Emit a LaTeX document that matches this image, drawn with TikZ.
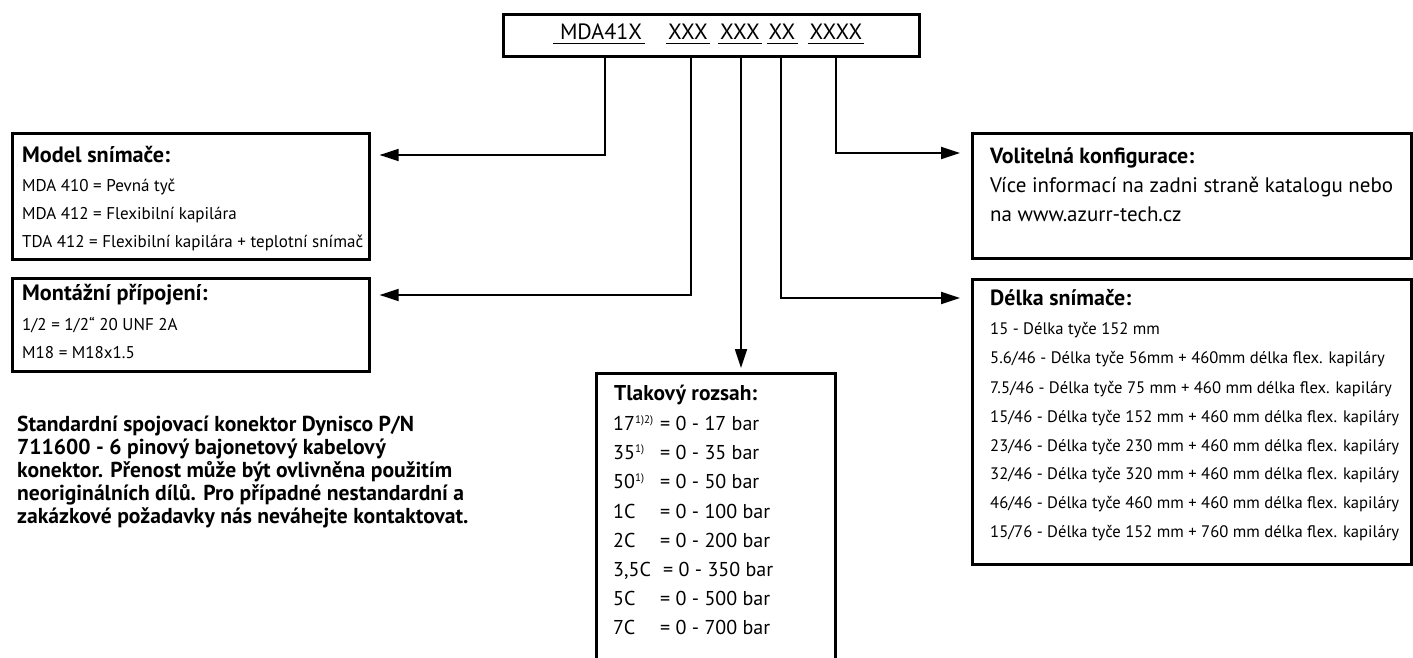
\documentclass[tikz,border=0pt]{standalone}
\usepackage{fontspec}
\setmainfont{PT Sans}
\usetikzlibrary{arrows.meta}
\newlength\mywd
\newcommand{\fitsz}[4]{%
  \settowidth\mywd{\fontsize{20}{20}\selectfont#2#3}%
  \pgfmathsetmacro#1{20*#4/\mywd}}
\newcommand{\fs}[1]{\fontsize{#1}{#1}\selectfont}
\newcommand{\supx}[1]{{\fontsize{11}{11}\selectfont\raisebox{6.5pt}{#1}}}
\begin{document}
\fitsz{\szMh}{\bfseries}{Model snímače:}{148}%
\fitsz{\szMb}{}{TDA 412 = Flexibilní kapilára + teplotní snímač}{341}%
\fitsz{\szVh}{\bfseries}{Volitelná konfigurace:}{204}%
\fitsz{\szDh}{\bfseries}{Délka snímače:}{141}%
\fitsz{\szVb}{}{Více informací na zadni straně katalogu nebo}{403}%
\fitsz{\szDb}{}{15/46 - Délka tyče 152 mm + 460 mm délka flex. kapiláry}{409}%
\fitsz{\szTh}{\bfseries}{Tlakový rozsah:}{143}%
\fitsz{\szTb}{}{= 0 - 350 bar}{110}%
\fitsz{\szP}{\bfseries}{konektor. Přenost může být ovlivněna použitím}{435}%
\fitsz{\szK}{}{MDA41X}{82}%
\begin{tikzpicture}[x=1pt,y=-1pt,
 box/.style={draw, line width=2.6pt, inner sep=0pt, anchor=north west},
 conn/.style={line width=1.8pt, -{Triangle[length=19pt,width=12pt]}},
 tl/.style={anchor=base west, inner sep=0pt},
 hd/.style={tl, font=\fs{\szMh}\bfseries},
 bd/.style={tl, font=\fs{\szMb}},
 hdV/.style={tl, font=\fs{\szVh}\bfseries},
 hdD/.style={tl, font=\fs{\szDh}\bfseries},
 bdV/.style={tl, font=\fs{\szVb}},
 bdS/.style={tl, font=\fs{\szDb}},
 hdT/.style={tl, font=\fs{\szTh}\bfseries},
 bdT/.style={tl, font=\fs{\szTb}},
 para/.style={tl, font=\fs{\szP}\bfseries},
 tok/.style={anchor=base, inner sep=0pt, font=\fs{\szK}},
 uline/.style={line width=1.5pt}]
\clip (0,0) rectangle (1413,658);
\fill[white] (0,0) rectangle (1413,658);

% code box
\node[box, minimum width=416pt, minimum height=42pt] (top) at (502,13) {};
\node[tok] (tok1) at (601,40) {MDA41X};
\node[tok] (tok2) at (688,40) {XXX};
\node[tok] (tok3) at (740,40) {XXX};
\node[tok] (tok4) at (782,40) {XX};
\node[tok] (tok5) at (836,40) {XXXX};
\draw[uline] ([shift={(-7,3.5)}]tok1.base west) -- ([shift={(3,3.5)}]tok1.base east);
\draw[uline] ([shift={(-2,3.5)}]tok2.base west) -- ([shift={(2,3.5)}]tok2.base east);
\draw[uline] ([shift={(-2,3.5)}]tok3.base west) -- ([shift={(2,3.5)}]tok3.base east);
\draw[uline] ([shift={(-2,3.5)}]tok4.base west) -- ([shift={(2,3.5)}]tok4.base east);
\draw[uline] ([shift={(-2,3.5)}]tok5.base west) -- ([shift={(2,3.5)}]tok5.base east);

% boxes
\node[box, minimum width=357pt, minimum height=126pt] (model) at (11,132) {};
\node[box, minimum width=357pt, minimum height=93pt] (mont) at (11,277) {};
\node[box, minimum width=239pt, minimum height=300pt] (tlak) at (595,372) {};
\node[box, minimum width=439pt, minimum height=125pt] (volit) at (971,132) {};
\node[box, minimum width=439pt, minimum height=285pt] (delka) at (971,278) {};

% model text
\node[hd] (m0) at (22,162) {Model snímače:};
\node[bd] (m1) at (22,191) {MDA 410 = Pevná tyč};
\node[bd] (m2) at (22,219) {MDA 412 = Flexibilní kapilára};
\node[bd] (m3) at (22,247) {TDA 412 = Flexibilní kapilára + teplotní snímač};

% montazni text
\node[hd] (n0) at (22,300) {Montážní přípojení:};
\node[bd] (n1) at (22,330) {1/2 = 1/2“ 20 UNF 2A};
\node[bd] (n2) at (22,358) {M18 = M18x1.5};

% volitelna text
\node[hdV] (v0) at (990,163) {Volitelná konfigurace:};
\node[bdV] (v1) at (990,192) {Více informací na zadni straně katalogu nebo};
\node[bdV] (v2) at (990,221) {na www.azurr-tech.cz};

% delka text
\node[hdD] (d0) at (990,305) {Délka snímače:};
\node[bdS] (d1) at (990,334) {15 - Délka tyče 152 mm};
\node[bdS] (d2) at (990,363) {5.6/46 - Délka tyče 56mm + 460mm délka flex. kapiláry};
\node[bdS] (d3) at (990,393) {7.5/46 - Délka tyče 75 mm + 460 mm délka flex. kapiláry};
\node[bdS] (d4) at (990,422) {15/46 - Délka tyče 152 mm + 460 mm délka flex. kapiláry};
\node[bdS] (d5) at (990,451) {23/46 - Délka tyče 230 mm + 460 mm délka flex. kapiláry};
\node[bdS] (d6) at (990,479) {32/46 - Délka tyče 320 mm + 460 mm délka flex. kapiláry};
\node[bdS] (d7) at (990,508) {46/46 - Délka tyče 460 mm + 460 mm délka flex. kapiláry};
\node[bdS] (d8) at (990,537) {15/76 - Délka tyče 152 mm + 760 mm délka flex. kapiláry};

% tlakovy text
\node[hdT] (t0) at (614,400) {Tlakový rozsah:};
\node[bdT] (ta1) at (613,430) {17\supx{1)2)}};
\node[bdT] (tb1) at (660,430) {= 0 - 17 bar};
\node[bdT] (ta2) at (613,459) {35\supx{1)}};
\node[bdT] (tb2) at (660,459) {= 0 - 35 bar};
\node[bdT] (ta3) at (613,488) {50\supx{1)}};
\node[bdT] (tb3) at (660,488) {= 0 - 50 bar};
\node[bdT] (ta4) at (613,518) {1C};
\node[bdT] (tb4) at (660,518) {= 0 - 100 bar};
\node[bdT] (ta5) at (613,547) {2C};
\node[bdT] (tb5) at (660,547) {= 0 - 200 bar};
\node[bdT] (ta6) at (613,576) {3,5C};
\node[bdT] (tb6) at (663,576) {= 0 - 350 bar};
\node[bdT] (ta7) at (613,605) {5C};
\node[bdT] (tb7) at (660,605) {= 0 - 500 bar};
\node[bdT] (ta8) at (613,634) {7C};
\node[bdT] (tb8) at (660,634) {= 0 - 700 bar};

% paragraph
\node[para] (p1) at (17,431) {Standardní spojovací konektor Dynisco P/N};
\node[para] (p2) at (17,454) {711600 - 6 pinový bajonetový kabelový};
\node[para] (p3) at (17,477) {konektor. Přenost může být ovlivněna použitím};
\node[para] (p4) at (17,500) {neoriginálních dílů. Pro případné nestandardní a};
\node[para] (p5) at (17,523) {zakázkové požadavky nás neváhejte kontaktovat.};

% connector anchors
\coordinate (c1) at (605,0);
\coordinate (c2) at (691,0);
\coordinate (c3) at (741,0);
\coordinate (c4) at (781,0);
\coordinate (c5) at (836,0);
\coordinate (tM) at ([shift={(9,23)}]model.north east);
\coordinate (tN) at ([shift={(9,18)}]mont.north east);
\coordinate (tT) at ([shift={(0,-4)}]c3 |- tlak.north);
\coordinate (tV) at ([shift={(-11,21)}]volit.north west);
\coordinate (tD) at ([shift={(-11,20)}]delka.north west);

\draw[conn] (c1 |- top.south) |- (tM);
\draw[conn] (c2 |- top.south) |- (tN);
\draw[conn] (c3 |- top.south) -- (tT);
\draw[conn] (c4 |- top.south) |- (tD);
\draw[conn] (c5 |- top.south) |- (tV);
\end{tikzpicture}
\end{document}
